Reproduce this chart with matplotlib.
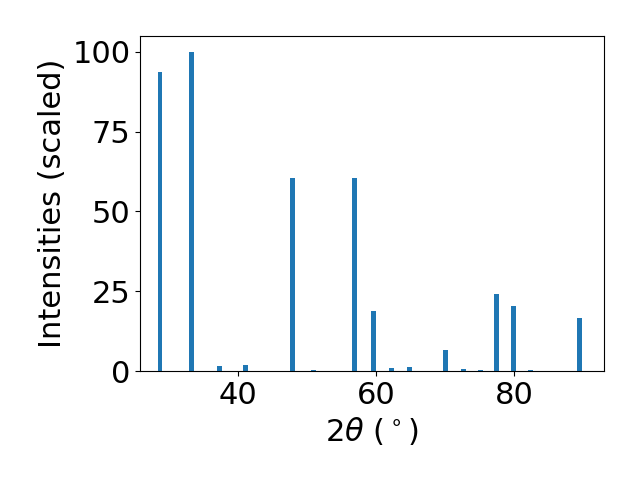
import matplotlib
matplotlib.use("Agg")
import matplotlib.pyplot as plt

# peak positions (2theta, degrees) and scaled intensities
two_theta = [28.77, 33.31, 37.4, 41.1, 47.9, 51.0, 56.85, 59.7, 62.3, 64.9,
             70.1, 72.6, 75.05, 77.5, 79.9, 82.3, 89.4]
intensity = [93.8, 100.0, 1.6, 2.0, 60.6, 0.3, 60.6, 18.9, 1.0, 1.35,
             6.7, 0.7, 0.3, 24.2, 20.5, 0.3, 16.7]

plt.rcParams['font.size'] = 22

fig, ax = plt.subplots(figsize=(6.4, 4.8), dpi=100)
ax.bar(two_theta, intensity, width=0.72, color='#1f77b4')
ax.set_xlim(25.9, 93.0)
ax.set_ylim(0, 105)
ax.set_yticks([0, 25, 50, 75, 100])
ax.set_xticks([40, 60, 80])
ax.set_xlabel(r"$2\theta$ ($^\circ$)")
ax.set_ylabel("Intensities (scaled)")
fig.subplots_adjust(left=0.219, right=0.944, bottom=0.227, top=0.925)
fig.savefig("out.png")
